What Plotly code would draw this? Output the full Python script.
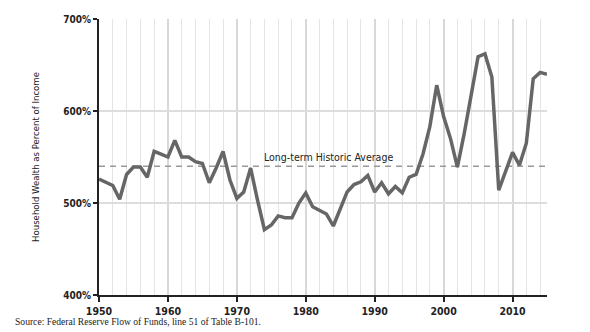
import plotly.graph_objects as go

years = list(range(1950, 2016))
wealth_pct = [526, 523, 519, 504, 531, 539, 539, 528, 556, 553,
              550, 568, 550, 550, 545, 543, 522, 538, 556, 525,
              505, 512, 538, 503, 471, 476, 486, 484, 484, 500,
              511, 496, 492, 488, 475, 494, 512, 520, 523, 530,
              512, 522, 510, 518, 511, 528, 531, 553, 583, 628,
              594, 570, 539, 576, 616, 659, 662, 637, 514, 534,
              555, 541, 565, 635, 642, 640]
historic_avg = 540
avg_label = "Long-term Historic Average"
y_title = "Household Wealth as Percent of Income"
source_text = "Source: Federal Reserve Flow of Funds, line 51 of Table B-101."

cond = "Liberation Sans Narrow, DejaVu Sans Condensed, Roboto Condensed, sans-serif"

fig = go.Figure()
fig.add_trace(go.Scatter(x=[years[0], years[-1]], y=[historic_avg, historic_avg],
                         mode="lines", line=dict(color="#999999", width=1.5, dash="6px,5px"),
                         hoverinfo="skip", showlegend=False))
fig.add_trace(go.Scatter(x=years, y=wealth_pct, mode="lines",
                         line=dict(color="#666666", width=3.5),
                         showlegend=False))

fig.add_annotation(x=1973.6, y=historic_avg, xref="x", yref="y", text=avg_label,
                   showarrow=False, xanchor="left", yanchor="bottom", yshift=1,
                   font=dict(family=cond, size=10.5, color="#222222"))
fig.add_annotation(x=(13 - 99) / 448, y=(295 - 321) / 276, xref="paper", yref="paper",
                   text=source_text,
                   showarrow=False, xanchor="left", yanchor="middle",
                   font=dict(family="Liberation Serif, DejaVu Serif, serif", size=9.6, color="#222222"))

fig.update_layout(
    width=590, height=332,
    margin=dict(l=99, r=43, t=19, b=37),
    plot_bgcolor="white", paper_bgcolor="white",
    xaxis=dict(range=[1950, 2015], dtick=10, tick0=1950,
               showgrid=True, gridcolor="#d8d8d8", gridwidth=1.5,
               minor=dict(dtick=2, tick0=1950, showgrid=True, gridcolor="#e4e4e4", gridwidth=1),
               showline=True, linecolor="#222222", linewidth=2,
               ticks="outside", ticklen=5, tickcolor="#222222", tickwidth=2,
               tickfont=dict(family=cond, size=10.5, color="#222222", weight="bold"),
               zeroline=False),
    yaxis=dict(range=[400, 700], dtick=100, ticksuffix="%",
               showgrid=True, gridcolor="#dddddd", gridwidth=2,
               showline=True, linecolor="#222222", linewidth=2,
               ticks="outside", ticklen=4, tickcolor="#222222", tickwidth=2,
               tickfont=dict(family=cond, size=10, color="#222222", weight="bold"),
               title=dict(text=y_title,
                          font=dict(family=cond, size=9.5, color="#222222")),
               zeroline=False),
)
fig.update_layout(yaxis_title_standoff=22)
fig.write_html("out.html")
